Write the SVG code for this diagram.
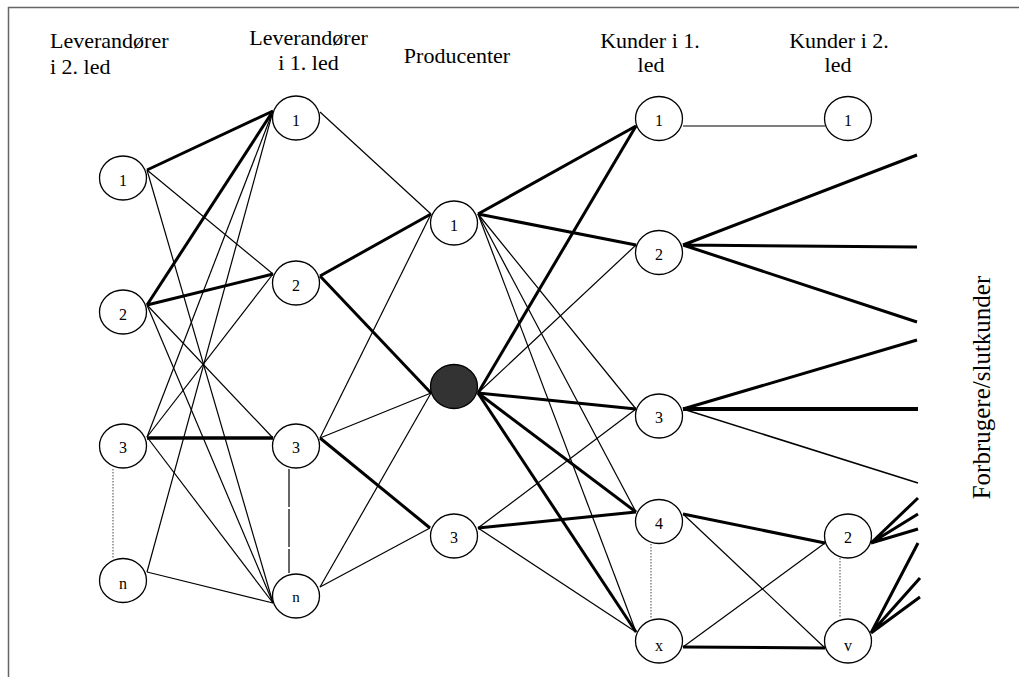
<svg xmlns="http://www.w3.org/2000/svg" width="1019" height="677" viewBox="0 0 1019 677">
<style>
.lbl{font-family:"Liberation Serif","Times New Roman",serif;font-size:22px;fill:#000}
.num{font-family:"Liberation Serif","Times New Roman",serif;font-size:16px;fill:#000;text-anchor:middle}
.nd{fill:#fff;stroke:#000;stroke-width:1.3}
.nf{fill:#333;stroke:#000;stroke-width:1.3}
.t{stroke:#000;stroke-width:1.2;fill:none}
.k{stroke:#000;stroke-width:3;fill:none}
.d{stroke:#666;stroke-width:1.2;stroke-dasharray:1.5 1.5;fill:none}
</style>
<rect x="0" y="0" width="1019" height="677" fill="#fff"/>
<path d="M8.5,677 V7.5 H1019" stroke="#666" stroke-width="1.5" fill="none"/>
<g id="labels">
<text class="lbl" x="50" y="48">Leverandører</text>
<text class="lbl" x="50" y="74">i 2. led</text>
<text class="lbl" x="308.5" y="45" text-anchor="middle">Leverandører</text>
<text class="lbl" x="308.5" y="70" text-anchor="middle">i 1. led</text>
<text class="lbl" x="457" y="63" text-anchor="middle">Producenter</text>
<text class="lbl" x="650" y="48" text-anchor="middle">Kunder i 1.</text>
<text class="lbl" x="651" y="72" text-anchor="middle">led</text>
<text class="lbl" x="839" y="48" text-anchor="middle">Kunder i 2.</text>
<text class="lbl" x="838" y="72" text-anchor="middle">led</text>
<text class="lbl" style="font-size:25px" x="0" y="0" text-anchor="middle" transform="translate(990,387.5) rotate(-90)">Forbrugere/slutkunder</text>
</g>
<g id="connectors">
<path class="k" d="M147,170 L273,111"/>
<path class="t" d="M147,170 L273,274"/>
<path class="t" d="M147,170 L273,603"/>
<path class="k" d="M147,305 L273,111"/>
<path class="k" d="M147,305 L273,274"/>
<path class="t" d="M147,305 L273,438"/>
<path class="t" d="M147,305 L273,603"/>
<path class="t" d="M147,437 L273,111"/>
<path class="t" d="M147,437 L273,274"/>
<path class="k" d="M147,438 L273,438" style="stroke-width:3.5"/>
<path class="t" d="M147,437 L273,603"/>
<path class="t" d="M147,572 L273,111"/>
<path class="t" d="M147,572 L273,603"/>
<path class="t" d="M320,112 L431,214"/>
<path class="k" d="M320,276 L431,214"/>
<path class="k" d="M320,276 L431,393"/>
<path class="t" d="M320,438 L431,214"/>
<path class="t" d="M320,438 L431,393"/>
<path class="k" d="M320,438 L430,528"/>
<path class="t" d="M320,587 L431,393"/>
<path class="t" d="M320,587 L430,528"/>
<path class="k" d="M478,214 L636,126"/>
<path class="k" d="M478,214 L636,245"/>
<path class="t" d="M478,214 L636,409"/>
<path class="t" d="M478,214 L636,512"/>
<path class="t" d="M478,214 L636,632"/>
<path class="k" d="M478,393 L636,126"/>
<path class="t" d="M478,393 L636,245"/>
<path class="k" d="M478,393 L636,409"/>
<path class="k" d="M478,393 L636,512"/>
<path class="k" d="M478,393 L636,632"/>
<path class="t" d="M478,528 L636,409"/>
<path class="k" d="M478,528 L636,512"/>
<path class="t" d="M478,528 L636,632"/>
<path class="t" d="M683,126 L825,126"/>
<path class="k" d="M683,514 L825,543"/>
<path class="t" d="M683,514 L825,648"/>
<path class="t" d="M683,647 L825,543"/>
<path class="k" d="M683,647 L825,648"/>
<path class="k" d="M683,245 L917,155 M683,245 L917,247 M683,245 L917,322"/>
<path class="k" d="M683,409 L917,340"/>
<path class="k" d="M683,409 L918,409" style="stroke-width:3.8"/>
<path class="t" d="M683,409 L918,483" style="stroke-width:1.5"/>
<path class="k" d="M871,543 L918,498 M871,543 L918,514 M871,543 L918,529"/>
<path class="k" d="M871,633 L918,543 M871,633 L920,578 M871,633 L920,597"/>
<path class="d" d="M113,469 V558"/>
<path class="t" d="M289,469 V573" style="stroke-dasharray:38 2"/>
<path class="d" d="M651,544 V618"/>
<path class="d" d="M840,558 V618"/>
</g>
<g id="A1"><ellipse class="nd" cx="123" cy="178" rx="23.5" ry="22"/><text class="num" x="123" y="186">1</text></g>
<g id="A2"><ellipse class="nd" cx="123" cy="312" rx="23.5" ry="22"/><text class="num" x="123" y="320">2</text></g>
<g id="A3"><ellipse class="nd" cx="123" cy="446" rx="23.5" ry="22"/><text class="num" x="123" y="453">3</text></g>
<g id="An"><ellipse class="nd" cx="123" cy="580.5" rx="23.5" ry="22"/><text class="num" x="123" y="589">n</text></g>
<g id="B1"><ellipse class="nd" cx="296" cy="118" rx="23.5" ry="22"/><text class="num" x="296" y="126">1</text></g>
<g id="B2"><ellipse class="nd" cx="296" cy="283" rx="23.5" ry="22"/><text class="num" x="296" y="291">2</text></g>
<g id="B3"><ellipse class="nd" cx="296" cy="446" rx="23.5" ry="22"/><text class="num" x="296" y="453">3</text></g>
<g id="Bn"><ellipse class="nd" cx="296" cy="596" rx="23.5" ry="22"/><text class="num" x="296" y="602" style="font-size:15px">n</text></g>
<g id="C1"><ellipse class="nd" cx="454" cy="223" rx="23.5" ry="22"/><text class="num" x="454" y="231">1</text></g>
<g id="C2"><ellipse class="nf" cx="454" cy="386.5" rx="23.5" ry="22"/></g>
<g id="C3"><ellipse class="nd" cx="454" cy="536" rx="23.5" ry="22"/><text class="num" x="454" y="543">3</text></g>
<g id="D1"><ellipse class="nd" cx="659" cy="118.5" rx="23.5" ry="22"/><text class="num" x="659" y="126">1</text></g>
<g id="D2"><ellipse class="nd" cx="659" cy="252.5" rx="23.5" ry="22"/><text class="num" x="659" y="260">2</text></g>
<g id="D3"><ellipse class="nd" cx="659" cy="416" rx="23.5" ry="22"/><text class="num" x="659" y="423">3</text></g>
<g id="D4"><ellipse class="nd" cx="659" cy="521.5" rx="23.5" ry="22"/><text class="num" x="659" y="529">4</text></g>
<g id="Dx"><ellipse class="nd" cx="659" cy="641" rx="23.5" ry="22"/><text class="num" x="659" y="651">x</text></g>
<g id="E1"><ellipse class="nd" cx="848" cy="118.5" rx="23.5" ry="22"/><text class="num" x="848" y="126">1</text></g>
<g id="E2"><ellipse class="nd" cx="848" cy="536" rx="23.5" ry="22"/><text class="num" x="848" y="543">2</text></g>
<g id="Ev"><ellipse class="nd" cx="848" cy="641" rx="23.5" ry="22"/><text class="num" x="848" y="651">v</text></g>
</svg>
